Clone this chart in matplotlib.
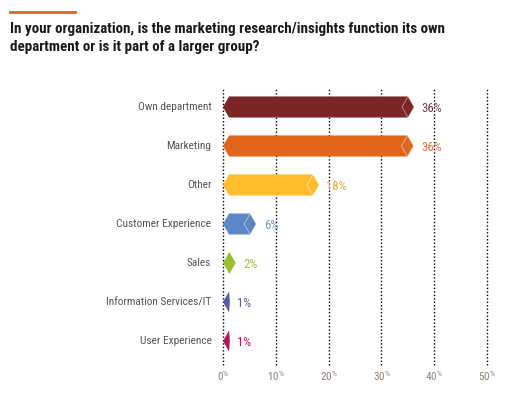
import matplotlib.pyplot as plt
from matplotlib.patches import Polygon
from matplotlib import font_manager

categories = ["Own department", "Marketing", "Other", "Customer Experience",
              "Sales", "Information Services/IT", "User Experience"]
values = [36.2, 36.1, 18.2, 6.3, 2.4, 1.3, 1.3]
labels = ["36%", "36%", "18%", "6%", "2%", "1%", "1%"]
colors = ["#7A2629", "#E0661E", "#FDBD2C", "#5C88C6", "#9BBD32", "#5A5BA6", "#B3145E"]
text_colors = ["#6E3D5A", "#E5733A", "#E2A83A", "#6A8FD0", "#A6C23A", "#5A5BA6", "#B3145E"]
ticks = [0, 10, 20, 30, 40, 50]

names = {f.name for f in font_manager.fontManager.ttflist}
font = "Roboto"
for cand in ["Roboto Condensed", "Liberation Sans Narrow", "Open Sans Condensed"]:
    if cand in names:
        font = cand
        break
plt.rcParams['font.family'] = [font, 'DejaVu Sans']
plt.rcParams['mathtext.fontset'] = 'custom'
plt.rcParams['mathtext.rm'] = font

fig = plt.figure(figsize=(5.2, 3.99), dpi=100)
ax = fig.add_axes([223/520, 34/399, 264/520, 277/399])

# title + accent line
fig.add_artist(plt.Line2D([10/520, 75/520], [1 - 12/399, 1 - 12/399], color="#E0661E", lw=2))
title = ["In your organization, is the marketing research/insights function its own",
         "department or is it part of a larger group?"]
for k, line in enumerate(title):
    fig.text(10/520, 1 - (33 + 18.5 * k)/399, line, fontsize=10.8, fontweight="bold",
             color="#1A1A1A", va="baseline", ha="left")

h = 0.54
for i, (v, c, tc, lab) in enumerate(zip(values, colors, text_colors, labels)):
    d = min(1.15, v)
    pts = [(0, i), (d, i - h/2), (max(v - d, d), i - h/2), (v, i),
           (max(v - d, d), i + h/2), (d, i + h/2)]
    ax.add_patch(Polygon(pts, closed=True, facecolor=c, edgecolor="none", zorder=3))
    if v > 5:
        # lighter diamond outline at the right tip
        dm = [(v - 2 * d, i), (v - d, i - h/2), (v, i), (v - d, i + h/2)]
        ax.add_patch(Polygon(dm, closed=True, facecolor="none", edgecolor="white",
                             lw=0.6, alpha=0.5, zorder=4))
    ax.text(v + 1.4, i + 0.05, lab, color=tc, fontsize=9.2, va="center", ha="left")
    ax.text(-2.2, i, categories[i], color="#555555", fontsize=8.2, va="center", ha="right")

for t in ticks:
    ax.axvline(t, color="black", lw=1, ls=(0, (1, 1.5)), zorder=1, clip_on=False)
    ax.text(t, 6.9, r"$\mathrm{%d}^{\%%}$" % t, color="#8A7F78", fontsize=8,
            ha="center", va="center")

ax.set_xlim(0, 50)
ax.set_ylim(6.615, -0.487)
ax.axis("off")

fig.savefig("out.png", dpi=100)
